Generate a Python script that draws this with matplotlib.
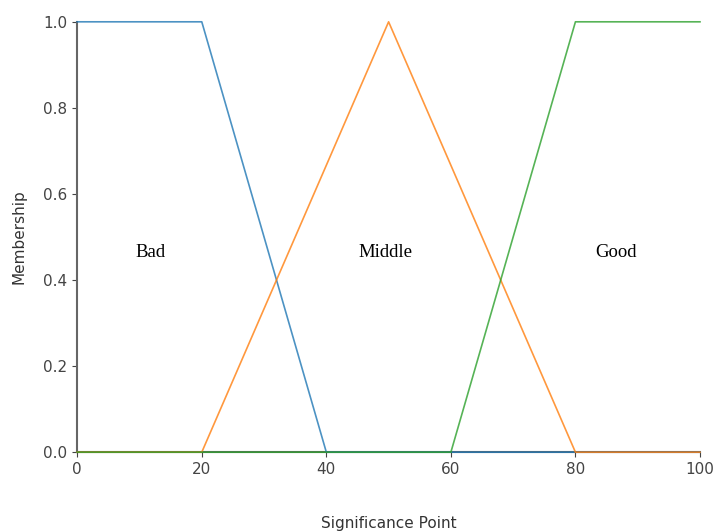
import matplotlib
matplotlib.use("Agg")
import matplotlib.pyplot as plt

# universe of discourse and membership functions (breakpoints)
x_points = [0, 20, 40, 50, 60, 80, 100]
bad = [1.0, 1.0, 0.0, 0.0, 0.0, 0.0, 0.0]
middle = [0.0, 0.0, 2/3, 1.0, 2/3, 0.0, 0.0]
good = [0.0, 0.0, 0.0, 0.0, 0.0, 1.0, 1.0]

labels = ['Bad', 'Middle', 'Good']
label_x = [11.7, 49.5, 86.5]
label_y = 0.465

fig = plt.figure(figsize=(7.15, 5.32), dpi=100)
ax = fig.add_axes([0.108, 0.150, 0.871, 0.809])

ax.plot(x_points, bad, color='#1f77b4', lw=1.2, alpha=0.8, clip_on=False, zorder=3)
ax.plot(x_points, middle, color='#ff7f0e', lw=1.2, alpha=0.8, clip_on=False, zorder=3)
ax.plot(x_points, good, color='#2ca02c', lw=1.2, alpha=0.8, clip_on=False, zorder=3)

for name, lx in zip(labels, label_x):
    ax.text(lx, label_y, name, ha='center', va='center',
            fontsize=13.5, family='Liberation Serif')

ax.set_xlim(0, 100)
ax.set_ylim(0, 1.0)
ax.set_xlabel('Significance Point', fontsize=11, color='#333333', labelpad=28)
ax.set_ylabel('Membership', fontsize=11, color='#333333', labelpad=12)
ax.tick_params(labelsize=11, colors='#444444')
ax.spines['top'].set_visible(False)
ax.spines['right'].set_visible(False)
for s in ['left', 'bottom']:
    ax.spines[s].set_color('#666666')
    ax.spines[s].set_linewidth(1.5)

fig.savefig('out.png', dpi=100)
